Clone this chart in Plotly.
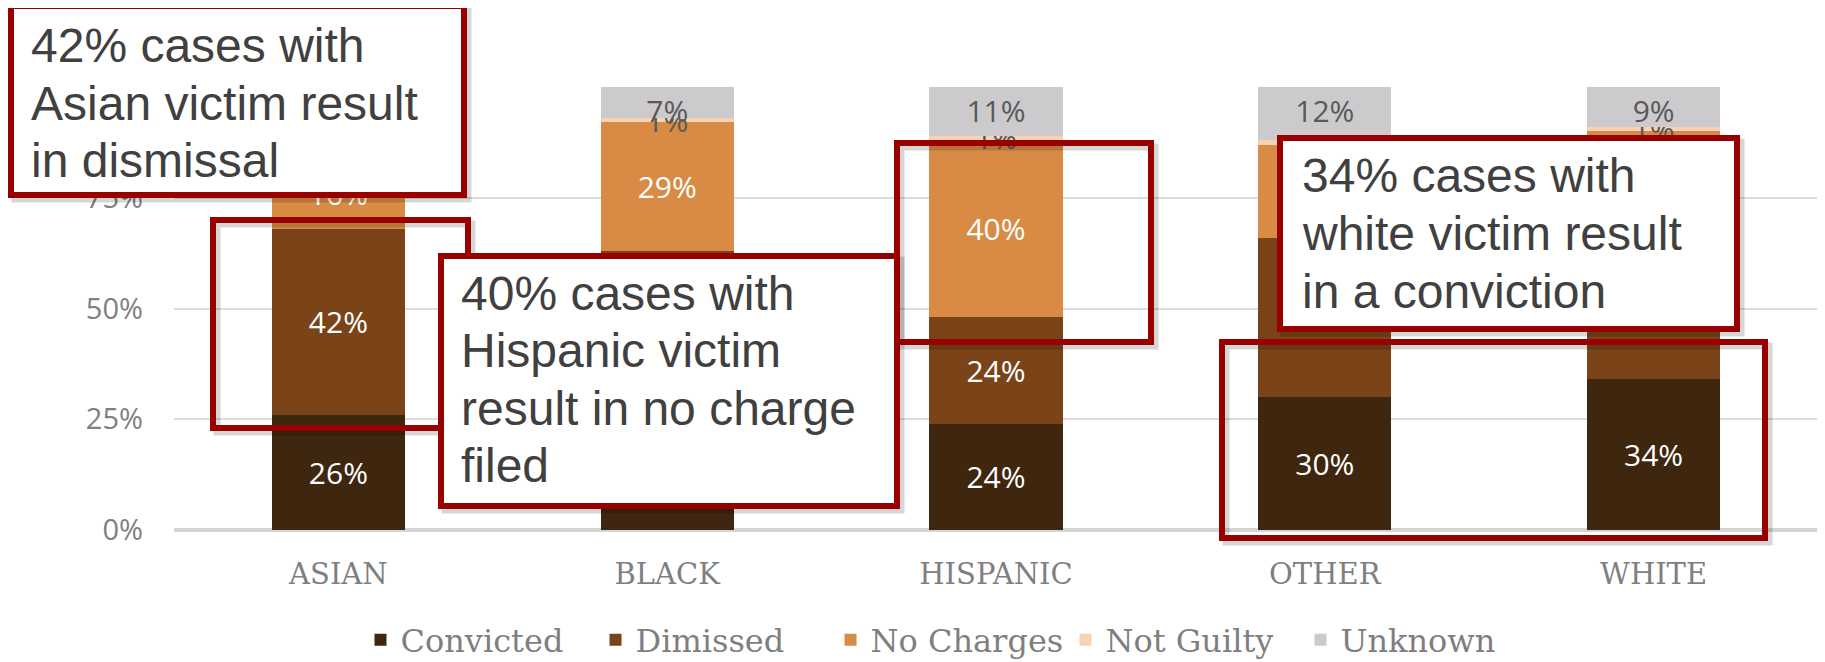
import plotly.graph_objects as go

categories = ["ASIAN", "BLACK", "HISPANIC", "OTHER", "WHITE"]
convicted = [26, 28, 24, 30, 34]
dismissed = [42, 35, 24, 36, 32]
no_charges = [16, 29, 40, 21, 24]
not_guilty = [1, 1, 1, 1, 1]
unknown = [15, 7, 11, 12, 9]
y_ticks = [0, 25, 50, 75, 100]
y_tick_labels = ["0%", "25%", "50%", "75%", "100%"]

series = [
    ("Convicted", convicted, "#3e260f", "white", "middle"),
    ("Dimissed", dismissed, "#7a4418", "white", "middle"),
    ("No Charges", no_charges, "#d98b45", "white", "middle"),
    ("Not Guilty", not_guilty, "#f6d3b5", "#595959", "middle"),
    ("Unknown", unknown, "#cccacc", "#595959", "end"),
]

# page body margin offset (8px) is taken into account
OFF = 8
W, H = 1817, 654
L, R, T, B = 166, 7, 79, 132
PW = W - L - R
PH = H - T - B

fig = go.Figure()
for name, vals, color, tcolor, anchor in series:
    fig.add_trace(go.Bar(
        x=categories, y=vals, name=name,
        marker=dict(color=color, line=dict(width=0)),
        text=[f"{v}%" for v in vals],
        textposition="inside", insidetextanchor=anchor,
        constraintext="none", textangle=0,
        textfont=dict(family="Open Sans", size=30, color=tcolor),
        hoverinfo="skip",
    ))


def px(x):
    return (x - OFF - L) / PW


def py(y):
    return (H - B - (y - OFF)) / PH


boxes = [
    # (x0, y0, x1, y1, filled) in page pixels
    (213, 220, 468, 428, False),
    (11, 6, 464, 195, True),
    (441, 256, 897, 506, True),
    (897, 143, 1151, 342, False),
    (1222, 342, 1765, 538, False),
    (1280, 138, 1737, 329, True),
]
shapes = []
for x0, y0, x1, y1, filled in boxes:
    shapes.append(dict(type="rect", xref="paper", yref="paper", layer="above",
                       x0=px(x0 + 4), x1=px(x1 + 4), y0=py(y0 + 4), y1=py(y1 + 4),
                       line=dict(color="rgba(0,0,0,0.16)", width=7),
                       fillcolor="rgba(0,0,0,0)"))
    shapes.append(dict(type="rect", xref="paper", yref="paper", layer="above",
                       x0=px(x0), x1=px(x1), y0=py(y0), y1=py(y1),
                       line=dict(color="#990000", width=6),
                       fillcolor="white" if filled else "rgba(0,0,0,0)"))

notes = [
    (29, [62, 120, 177], ["42% cases with", "Asian victim result", "in dismissal"]),
    (459, [310, 367, 425, 482], ["40% cases with", "Hispanic victim", "result in no charge", "filed"]),
    (1300, [192, 250, 308], ["34% cases with", "white victim result", "in a conviction"]),
]
annotations = []
for x, baselines, lines in notes:
    for bl, txt in zip(baselines, lines):
        annotations.append(dict(
            xref="paper", yref="paper", x=px(x), y=py(bl - 16.6),
            xanchor="left", yanchor="middle", showarrow=False, text=txt,
            font=dict(family="Liberation Sans, Arial", size=48, color="#404040"),
        ))

fig.update_layout(
    width=W, height=H, autosize=False,
    margin=dict(l=L, r=R, t=T, b=B, pad=0, autoexpand=False),
    barmode="stack", bargap=0.595,
    plot_bgcolor="white", paper_bgcolor="white",
    shapes=shapes, annotations=annotations,
    showlegend=True,
    legend=dict(orientation="h", xref="paper", x=px(948), xanchor="center",
                yref="paper", y=py(640), yanchor="middle",
                font=dict(family="DejaVu Serif", size=32, color="#7f7f7f"),
                itemwidth=30, traceorder="normal",
                entrywidth=190, entrywidthmode="pixels"),
    xaxis=dict(showgrid=False, showline=False, ticks="", ticklabelstandoff=24,
               tickangle=0, automargin=False,
               tickfont=dict(family="DejaVu Serif", size=29, color="#7f7f7f")),
    yaxis=dict(range=[0, 100], tickvals=y_ticks, ticktext=y_tick_labels,
               showgrid=True, gridcolor="#dcdcdc", gridwidth=2,
               zeroline=True, zerolinecolor="#d4d4d4", zerolinewidth=4,
               showline=False, ticks="", ticklabelstandoff=30, automargin=False,
               tickfont=dict(family="Open Sans", size=29, color="#808080")),
)

fig.write_html("out.html")
